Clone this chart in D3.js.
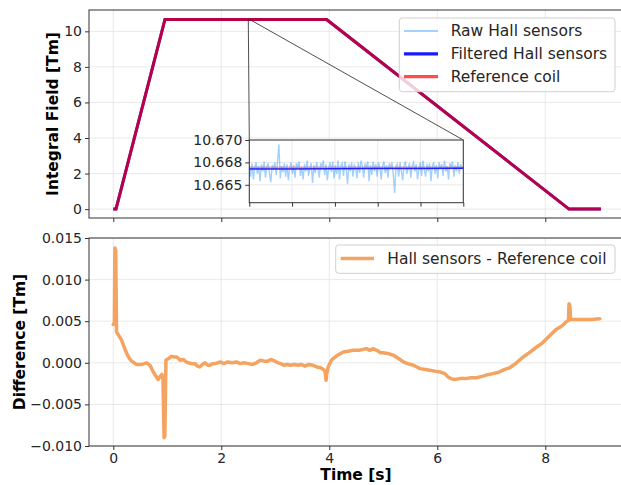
<!DOCTYPE html>
<html>
<head>
<meta charset="utf-8">
<script src="https://cdn.jsdelivr.net/npm/d3@7"></script>
<style>
body { margin: 0; background: #fff; }
text { font-family: "DejaVu Sans", sans-serif; fill: #262626; }
.axis path { display: none; }
.axis line { stroke: #333; }
.axis text { font-size: 14px; }
.grid { stroke: #e3e3e3; stroke-width: 0.8; }
.label { font-size: 15.5px; font-weight: bold; fill: #000; }
.legend text { font-size: 15.5px; }
</style>
</head>
<body>
<svg id="chart" width="621" height="485"></svg>
<script>
// ramp of the magnet: time [s] and integral field [Tm]
const fieldTime = [0, 0.05, 0.957, 3.95, 8.44, 9.03];
const filteredHall = [0, 0, 10.6668, 10.6668, 0, 0];
const refCoil = [0, 0, 10.6669, 10.6669, 0, 0];

// zoomed plateau (inset)
const insetRange = [2.5, 2.525];
const insetTime = [2.500, 2.505, 2.510, 2.515, 2.520, 2.525];
const insetFiltered = [10.66676, 10.66677, 10.66679, 10.66681, 10.66682, 10.66684];
const insetRef = [10.66690, 10.66690, 10.66690, 10.66690, 10.66690, 10.66690];
const rawStart = 2.5, rawStep = 0.025 / 159; // sample period of the raw hall signal
const rawHall = [
  10.6672, 10.6659, 10.6674, 10.6656, 10.6669, 10.6675, 10.6662, 10.6671, 10.6654, 10.6673,
  10.6665, 10.6676, 10.6658, 10.6670, 10.6674, 10.6663, 10.6653, 10.6672, 10.6668, 10.6675,
  10.6661, 10.6676, 10.6695, 10.6657, 10.6671, 10.6664, 10.6674, 10.6659, 10.6673, 10.6655,
  10.6669, 10.6675, 10.6662, 10.6672, 10.6658, 10.6674, 10.6668, 10.6676, 10.6660, 10.6670,
  10.6656, 10.6673, 10.6665, 10.6677, 10.6660, 10.6669, 10.6674, 10.6652, 10.6672, 10.6663,
  10.6675, 10.6668, 10.6658, 10.6674, 10.6670, 10.6677, 10.6661, 10.6673, 10.6655, 10.6669,
  10.6675, 10.6664, 10.6676, 10.6657, 10.6672, 10.6662, 10.6677, 10.6656, 10.6671, 10.6674,
  10.6660, 10.6676, 10.6668, 10.6651, 10.6673, 10.6665, 10.6675, 10.6659, 10.6672, 10.6669,
  10.6657, 10.6675, 10.6663, 10.6677, 10.6671, 10.6658, 10.6674, 10.6668, 10.6676, 10.6654,
  10.6672, 10.6661, 10.6676, 10.6665, 10.6673, 10.6659, 10.6675, 10.6669, 10.6656, 10.6671,
  10.6676, 10.6663, 10.6672, 10.6658, 10.6674, 10.6668, 10.6675, 10.6661, 10.6641, 10.6671,
  10.6673, 10.6659, 10.6675, 10.6665, 10.6655, 10.6672, 10.6676, 10.6662, 10.6669, 10.6674,
  10.6658, 10.6671, 10.6675, 10.6665, 10.6673, 10.6656, 10.6668, 10.6675, 10.6660, 10.6677,
  10.6667, 10.6659, 10.6673, 10.6665, 10.6674, 10.6654, 10.6671, 10.6675, 10.6662, 10.6672,
  10.6657, 10.6675, 10.6668, 10.6673, 10.6660, 10.6677, 10.6665, 10.6671, 10.6656, 10.6674,
  10.6669, 10.6676, 10.6659, 10.6672, 10.6665, 10.6675, 10.6662, 10.6673, 10.6669, 10.6668
];

// hall sensors - reference coil [Tm]
const diffTime = [
  0.00, 0.02, 0.03, 0.045, 0.06, 0.10, 0.155, 0.20, 0.25, 0.30, 0.34, 0.43, 0.53, 0.62, 0.68,
  0.74, 0.80, 0.83, 0.86, 0.90, 0.92, 0.94, 0.955, 0.975, 1.02, 1.08, 1.12, 1.17, 1.21, 1.24,
  1.30, 1.35, 1.39, 1.45, 1.51, 1.56, 1.60, 1.65, 1.70, 1.75, 1.79, 1.84, 1.88, 1.93, 1.98,
  2.05, 2.12, 2.20, 2.28, 2.35, 2.42, 2.50, 2.58, 2.65, 2.72, 2.80, 2.86, 2.93, 2.99, 3.05,
  3.10, 3.16, 3.22, 3.28, 3.35, 3.42, 3.48, 3.55, 3.62, 3.70, 3.77, 3.84, 3.89, 3.92, 3.94,
  3.955, 3.98, 4.03, 4.07, 4.15, 4.26, 4.35, 4.44, 4.55, 4.62, 4.69, 4.75, 4.81, 4.88, 4.95,
  5.00, 5.10, 5.19, 5.26, 5.31, 5.37, 5.45, 5.56, 5.62, 5.68, 5.78, 5.86, 5.95, 6.05, 6.14,
  6.20, 6.25, 6.32, 6.42, 6.52, 6.62, 6.73, 6.85, 6.95, 7.03, 7.15, 7.25, 7.34, 7.45, 7.52,
  7.59, 7.70, 7.84, 7.95, 8.09, 8.20, 8.30, 8.40, 8.43, 8.44, 8.455, 8.47, 8.55, 8.70, 8.85, 9.01
];
const diffValue = [
  0.0046, 0.0048, 0.0138, 0.0135, 0.0037, 0.0033, 0.0027, 0.0019, 0.0011, 0.0005, 0.0002, -0.0002, -0.0002, 0.0000, -0.0003,
  -0.0011, -0.0017, -0.0020, -0.0017, -0.0014, -0.0020, -0.0090, -0.0088, 0.0003, 0.0005, 0.0008, 0.0007, 0.0007, 0.0005, 0.0003,
  0.0004, 0.0001, 0.0000, -0.0001, -0.0001, -0.0004, -0.0005, -0.0002, 0.0000, -0.0003, -0.0003, -0.0001, -0.0001, 0.0000, 0.0001,
  -0.0001, 0.0001, 0.0000, 0.0001, -0.0001, 0.0000, -0.0001, -0.0002, 0.0000, 0.0003, 0.0002, 0.0002, 0.0004, 0.0002, 0.0000,
  -0.0001, -0.0003, -0.0002, -0.0003, -0.0002, -0.0003, -0.0002, -0.0004, -0.0002, -0.0003, -0.0005, -0.0006, -0.0008, -0.0010, -0.0021,
  -0.0012, -0.0005, 0.0002, 0.0005, 0.0009, 0.0013, 0.0014, 0.0015, 0.0015, 0.0016, 0.0017, 0.0015, 0.0017, 0.0015, 0.0012,
  0.0012, 0.0011, 0.0009, 0.0006, 0.0004, 0.0001, -0.0001, -0.0003, -0.0005, -0.0007, -0.0008, -0.0009, -0.0010, -0.0011, -0.0013,
  -0.0017, -0.0019, -0.0020, -0.0019, -0.0019, -0.0018, -0.0018, -0.0016, -0.0014, -0.0013, -0.0011, -0.0008, -0.0006, -0.0001, 0.0003,
  0.0007, 0.0012, 0.0019, 0.0024, 0.0033, 0.0040, 0.0044, 0.0050, 0.0051, 0.0071, 0.0069, 0.0052, 0.0052, 0.0052, 0.0052, 0.0053
];

const timeTicks = [0, 2, 4, 6, 8];
const fieldTicks = [0, 2, 4, 6, 8, 10];
const diffTicks = [-0.010, -0.005, 0.000, 0.005, 0.010, 0.015];
const insetYTicks = [10.665, 10.6675, 10.670];
const insetYLabels = ['10.665', '10.668', '10.670'];
const insetXTicks = [2.500, 2.505, 2.510, 2.515, 2.520, 2.525];

const svg = d3.select('#chart');

const topBox = { left: 89, right: 625.2, top: 10, bottom: 218 };
const botBox = { left: 89, right: 625.2, top: 238, bottom: 446 };

var x = d3.scaleLinear().domain([-0.45, 9.48]).range([topBox.left, topBox.right]);
var yTop = d3.scaleLinear().domain([-0.5, 11.2]).range([topBox.bottom, topBox.top]);
var yBot = d3.scaleLinear().domain([-0.010, 0.015]).range([botBox.bottom, botBox.top]);

var xi = d3.scaleLinear().domain(insetRange).range([249.3, 463.3]);
var yi = d3.scaleLinear().domain([10.663, 10.670]).range([202.7, 140]);

function grid(g, xs, ys, xt, yt, box) {
    g.selectAll(null).data(xt).enter().append('line')
        .attr('class', 'grid')
        .attr('x1', d => xs(d)).attr('x2', d => xs(d))
        .attr('y1', box.top).attr('y2', box.bottom);
    g.selectAll(null).data(yt).enter().append('line')
        .attr('class', 'grid')
        .attr('x1', box.left).attr('x2', box.right)
        .attr('y1', d => ys(d)).attr('y2', d => ys(d));
}

function frame(g, box) {
    g.append('rect')
        .attr('x', box.left).attr('y', box.top)
        .attr('width', box.right - box.left).attr('height', box.bottom - box.top)
        .attr('fill', 'none').attr('stroke', '#333').attr('stroke-width', 1);
}

// ---------- top panel ----------
const gTop = svg.append('g');
grid(gTop, x, yTop, timeTicks, fieldTicks, topBox);

const fieldLine = (vals) => d3.line()
    .x((d, i) => x(fieldTime[i]))
    .y(d => yTop(d))(vals);

gTop.append('path')
    .attr('d', fieldLine(filteredHall))
    .attr('stroke', '#0000ff').attr('stroke-width', 3).attr('fill', 'none');
gTop.append('path')
    .attr('d', fieldLine(refCoil))
    .attr('stroke', '#ff0000').attr('stroke-opacity', 0.72)
    .attr('stroke-width', 3).attr('fill', 'none')
    .attr('stroke-linejoin', 'round');

gTop.append('g')
    .attr('class', 'axis')
    .attr('transform', 'translate(' + topBox.left + ',0)')
    .call(d3.axisLeft(yTop).tickValues(fieldTicks).tickSize(4).tickPadding(3));
gTop.append('g')
    .attr('class', 'axis')
    .attr('transform', 'translate(0,' + topBox.bottom + ')')
    .call(d3.axisBottom(x).tickValues(timeTicks).tickSize(4).tickFormat(''));
frame(gTop, topBox);

// mark of the zoomed region + connectors
const rx1 = x(insetRange[0]), rx2 = x(insetRange[1]);
gTop.append('rect')
    .attr('x', rx1).attr('y', yTop(10.670))
    .attr('width', rx2 - rx1).attr('height', yTop(10.663) - yTop(10.670))
    .attr('fill', 'none').attr('stroke', '#222').attr('stroke-width', 0.8);
gTop.append('line')
    .attr('x1', rx1).attr('y1', yTop(10.670))
    .attr('x2', xi.range()[0]).attr('y2', yi(10.670))
    .attr('stroke', '#222').attr('stroke-width', 0.8);
gTop.append('line')
    .attr('x1', rx2).attr('y1', yTop(10.670))
    .attr('x2', xi.range()[1]).attr('y2', yi(10.670))
    .attr('stroke', '#222').attr('stroke-width', 0.8);

// ---------- inset ----------
const ibox = { left: xi.range()[0], right: xi.range()[1], top: yi.range()[1], bottom: yi.range()[0] };
const gIn = svg.append('g');
gIn.append('rect')
    .attr('x', ibox.left).attr('y', ibox.top)
    .attr('width', ibox.right - ibox.left).attr('height', ibox.bottom - ibox.top)
    .attr('fill', '#fff');
grid(gIn, xi, yi, insetXTicks, insetYTicks, ibox);

svg.append('clipPath').attr('id', 'inclip')
    .append('rect')
    .attr('x', ibox.left).attr('y', ibox.top)
    .attr('width', ibox.right - ibox.left).attr('height', ibox.bottom - ibox.top);

const gInData = gIn.append('g').attr('clip-path', 'url(#inclip)');
gInData.append('path')
    .attr('d', d3.line().x((d, i) => xi(insetTime[i])).y(d => yi(d))(insetRef))
    .attr('stroke', '#ff0000').attr('stroke-opacity', 0.35)
    .attr('stroke-width', 2.5).attr('fill', 'none');
gInData.append('path')
    .attr('d', d3.line().x((d, i) => xi(rawStart + i * rawStep)).y(d => yi(d))(rawHall))
    .attr('stroke', '#1e90ff').attr('stroke-opacity', 0.42)
    .attr('stroke-width', 1.4).attr('fill', 'none');
gInData.append('path')
    .attr('d', d3.line().x((d, i) => xi(insetTime[i])).y(d => yi(d))(insetFiltered))
    .attr('stroke', '#0000ff').attr('stroke-opacity', 0.8)
    .attr('stroke-width', 1.5).attr('fill', 'none');

gIn.append('g')
    .attr('class', 'axis')
    .attr('transform', 'translate(' + ibox.left + ',0)')
    .call(d3.axisLeft(yi).tickValues(insetYTicks).tickSize(4).tickPadding(3)
        .tickFormat((d, i) => insetYLabels[i]));
gIn.append('g')
    .attr('class', 'axis')
    .attr('transform', 'translate(0,' + ibox.bottom + ')')
    .call(d3.axisBottom(xi).tickValues(insetXTicks).tickSize(4).tickFormat(''));
frame(gIn, ibox);

// top legend
const legTop = svg.append('g').attr('class', 'legend');
legTop.append('rect')
    .attr('x', 399.3).attr('y', 18).attr('width', 215.7).attr('height', 73.7)
    .attr('rx', 3).attr('fill', '#fff').attr('fill-opacity', 0.8)
    .attr('stroke', '#d0d0d0');
const topEntries = [
    { name: 'Raw Hall sensors', color: '#1e90ff', op: 0.4, w: 2 },
    { name: 'Filtered Hall sensors', color: '#0000ff', op: 0.9, w: 3.3 },
    { name: 'Reference coil', color: '#ff0000', op: 0.7, w: 3.3 }
];
topEntries.forEach((e, i) => {
    const yy = 31 + i * 22.8;
    legTop.append('line')
        .attr('x1', 404).attr('x2', 438).attr('y1', yy).attr('y2', yy)
        .attr('stroke', e.color).attr('stroke-opacity', e.op).attr('stroke-width', e.w);
    legTop.append('text')
        .attr('x', 450.7).attr('y', yy).attr('dy', '0.35em')
        .text(e.name);
});

// ---------- bottom panel ----------
const gBot = svg.append('g');
grid(gBot, x, yBot, timeTicks, diffTicks, botBox);

gBot.append('path')
    .attr('d', d3.line().x((d, i) => x(diffTime[i])).y(d => yBot(d))(diffValue))
    .attr('stroke', '#f4a460').attr('stroke-width', 3.5).attr('fill', 'none')
    .attr('stroke-linejoin', 'round').attr('stroke-linecap', 'round');

gBot.append('g')
    .attr('class', 'axis')
    .attr('transform', 'translate(' + botBox.left + ',0)')
    .call(d3.axisLeft(yBot).tickValues(diffTicks).tickSize(4).tickPadding(3).tickFormat(d3.format('.3f')));
gBot.append('g')
    .attr('class', 'axis')
    .attr('transform', 'translate(0,' + botBox.bottom + ')')
    .call(d3.axisBottom(x).tickValues(timeTicks).tickSize(4).tickPadding(3).tickFormat(d3.format('d')));
frame(gBot, botBox);

const legBot = svg.append('g').attr('class', 'legend');
legBot.append('rect')
    .attr('x', 335.7).attr('y', 245).attr('width', 279.3).attr('height', 28.3)
    .attr('rx', 3).attr('fill', '#fff').attr('fill-opacity', 0.8)
    .attr('stroke', '#d0d0d0');
legBot.append('line')
    .attr('x1', 340.7).attr('x2', 374).attr('y1', 258.5).attr('y2', 258.5)
    .attr('stroke', '#f4a460').attr('stroke-width', 3.5);
legBot.append('text')
    .attr('x', 387.3).attr('y', 258.5).attr('dy', '0.35em')
    .text('Hall sensors - Reference coil');

// axis labels
svg.append('text').attr('class', 'label')
    .attr('transform', 'translate(53,114) rotate(-90)')
    .attr('text-anchor', 'middle').attr('dy', '0.35em')
    .text('Integral Field [Tm]');
svg.append('text').attr('class', 'label')
    .attr('transform', 'translate(20,342) rotate(-90)')
    .attr('text-anchor', 'middle').attr('dy', '0.35em')
    .text('Difference [Tm]');
svg.append('text').attr('class', 'label')
    .attr('x', 356).attr('y', 475).attr('dy', '0.35em')
    .attr('text-anchor', 'middle')
    .text('Time [s]');
</script>
</body>
</html>
